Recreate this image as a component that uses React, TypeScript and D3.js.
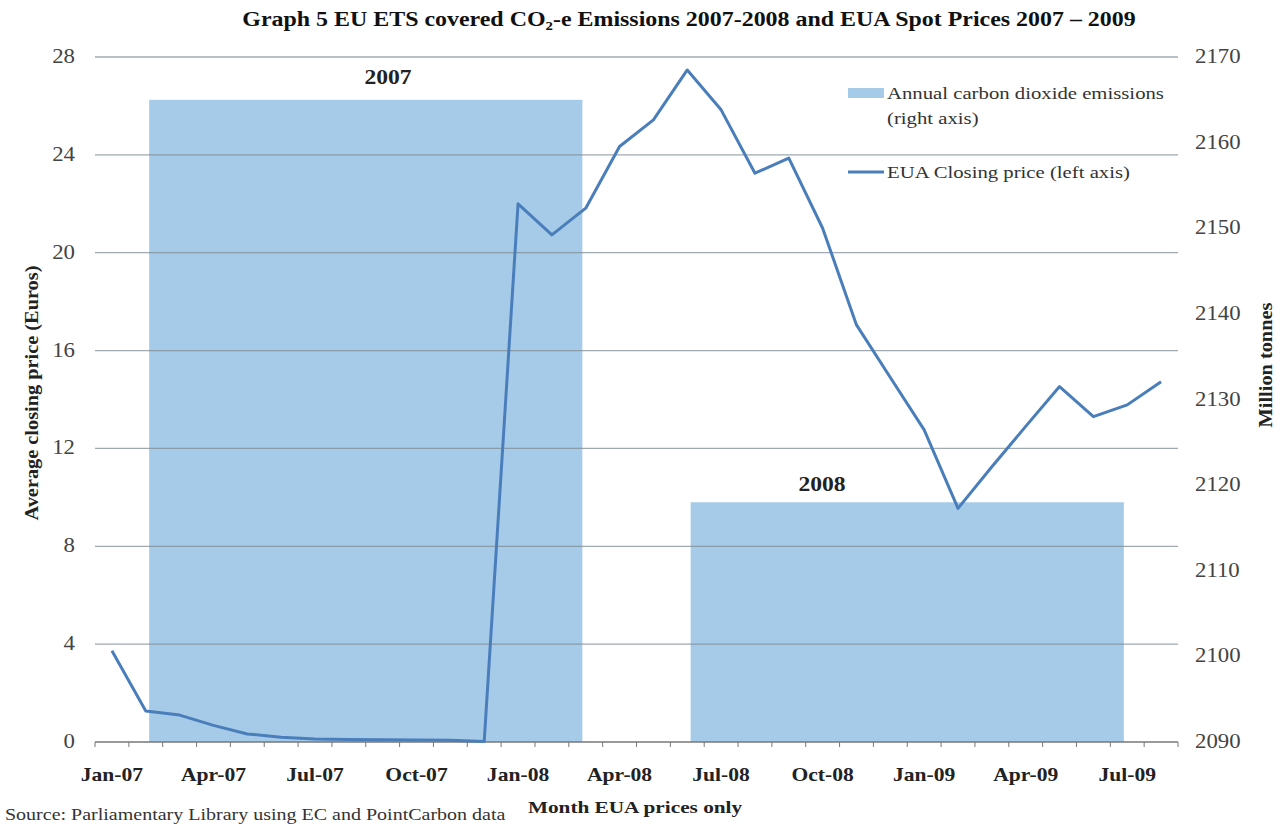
import React from "react";
import * as d3 from "d3";

const months: string[] = [
  "Jan-07","Feb-07","Mar-07","Apr-07","May-07","Jun-07","Jul-07","Aug-07","Sep-07","Oct-07","Nov-07","Dec-07",
  "Jan-08","Feb-08","Mar-08","Apr-08","May-08","Jun-08","Jul-08","Aug-08","Sep-08","Oct-08","Nov-08","Dec-08",
  "Jan-09","Feb-09","Mar-09","Apr-09","May-09","Jun-09","Jul-09","Aug-09",
];
const euaPrice: number[] = [
  3.73, 1.27, 1.1, 0.68, 0.33, 0.19, 0.12, 0.1, 0.09, 0.08, 0.07, 0.02,
  22.0, 20.73, 21.82, 24.34, 25.43, 27.47, 25.84, 23.25, 23.87, 21.0, 17.05, 14.9,
  12.76, 9.55, 11.25, 12.9, 14.53, 13.3, 13.78, 14.73,
];
const years: string[] = ["2007", "2008"];
const emissions: number[] = [2165, 2118];
const leftTicks: number[] = [0, 4, 8, 12, 16, 20, 24, 28];
const rightTicks: number[] = [2090, 2100, 2110, 2120, 2130, 2140, 2150, 2160, 2170];

const SERIF = '"Liberation Serif", "Times New Roman", Times, serif';

type TProps = {
  x: number; y: number; sx?: number; rotate?: number; anchor?: string;
  size: number; bold?: boolean; fill?: string; children: React.ReactNode;
};
function T({ x, y, sx = 1.2, rotate = 0, anchor = "start", size, bold, fill = "#222", children }: TProps) {
  return (
    <text
      transform={`translate(${x},${y}) rotate(${rotate}) scale(${sx},1)`}
      textAnchor={anchor}
      fontSize={size}
      fontWeight={bold ? "bold" : "normal"}
      fill={fill}
    >
      {children}
    </text>
  );
}

export default function App() {
  const W = 1288, H = 831;
  const left = 95, right = 1178, top = 57, bottom = 742;

  const x = d3.scaleBand<string>().domain(months).range([left, right]).padding(0);
  const xYear = d3.scaleBand<string>().domain(years).range([left, right]).paddingInner(0.2).paddingOuter(0.1);
  const yL = d3.scaleLinear().domain([0, 28]).range([bottom, top]);
  const yR = d3.scaleLinear().domain([2090, 2170]).range([bottom, top]);

  const line = d3.line<number>()
    .x((_, i) => (x(months[i]) as number) + x.bandwidth() / 2)
    .y((d) => yL(d));

  const tickXs = d3.range(months.length + 1).map((i) => left + i * x.step());

  return (
    <svg width={W} height={H} style={{ position: "absolute", left: 0, top: 0, background: "#fff" }} fontFamily={SERIF}>
      {/* title */}
      <T x={689} y={26} anchor="middle" size={21} bold fill="#111" sx={1.14}>
        Graph 5 EU ETS covered CO<tspan fontSize={13} dy={4}>2</tspan><tspan dy={-4}>-e Emissions 2007-2008 and EUA Spot Prices 2007 – 2009</tspan>
      </T>

      {/* bars */}
      {years.map((yr, i) => (
        <rect key={yr} x={xYear(yr)} y={yR(emissions[i])} width={xYear.bandwidth()} height={bottom - yR(emissions[i])} fill="#a6cbe8" />
      ))}

      {/* gridlines */}
      {leftTicks.slice(1).map((t) => (
        <line key={t} x1={left} x2={right} y1={yL(t)} y2={yL(t)} stroke="#7f8c96" strokeOpacity={0.75} strokeWidth={1.3} />
      ))}

      {/* x axis */}
      <line x1={left} x2={right} y1={bottom} y2={bottom} stroke="#777" strokeWidth={1.3} />
      {tickXs.map((tx, i) => (
        <line key={i} x1={tx} x2={tx} y1={bottom} y2={bottom + 5} stroke="#777" strokeWidth={1} />
      ))}
      {months.map((m, i) =>
        i % 3 === 0 ? (
          <T key={m} x={(x(m) as number) + x.bandwidth() / 2} y={781} anchor="middle" size={18} bold sx={1.2}>
            {m}
          </T>
        ) : null
      )}

      {/* left ticks */}
      {leftTicks.map((t) => (
        <T key={t} x={75} y={yL(t) + 6} anchor="end" size={20} fill="#444" sx={1.14}>{t}</T>
      ))}
      {/* right ticks */}
      {rightTicks.map((t) => (
        <T key={t} x={1195} y={yR(t) + 6} anchor="start" size={20} fill="#444" sx={1.14}>{t}</T>
      ))}

      {/* axis titles */}
      <T x={38} y={393} rotate={-90} anchor="middle" size={18} bold sx={1.13}>
        Average closing price (Euros)
      </T>
      <T x={1272} y={365} rotate={-90} anchor="middle" size={18} bold sx={1.13}>
        Million tonnes
      </T>
      <T x={635} y={813} anchor="middle" size={17} bold sx={1.25}>Month EUA prices only</T>
      <T x={5} y={820} size={16} fill="#333" sx={1.25}>Source: Parliamentary Library using EC and PointCarbon data</T>

      {/* bar labels */}
      <T x={388} y={84} anchor="middle" size={20} bold sx={1.18}>2007</T>
      <T x={822} y={491} anchor="middle" size={20} bold sx={1.18}>2008</T>

      {/* line */}
      <path d={line(euaPrice) as string} fill="none" stroke="#4a7ebb" strokeWidth={3} strokeLinejoin="round" />

      {/* legend */}
      <rect x={848} y={88} width={36} height={10} fill="#a6cbe8" />
      <T x={887} y={99} size={17} fill="#333" sx={1.22}>Annual carbon dioxide emissions</T>
      <T x={887} y={124} size={17} fill="#333" sx={1.22}>(right axis)</T>
      <line x1={848} x2={884} y1={172} y2={172} stroke="#4a7ebb" strokeWidth={3} />
      <T x={887} y={178} size={17} fill="#333" sx={1.22}>EUA Closing price (left axis)</T>
    </svg>
  );
}
